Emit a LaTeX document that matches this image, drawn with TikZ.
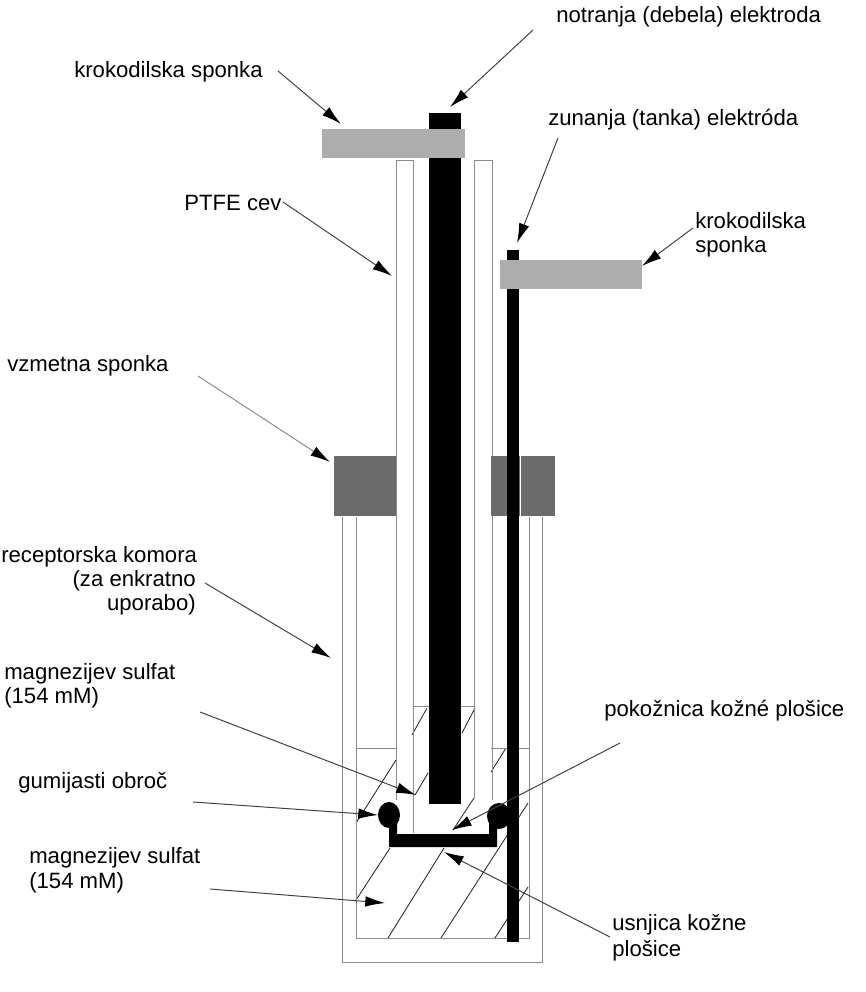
\documentclass[tikz,border=0pt]{standalone}
\usepackage{fontspec}
\setmainfont{Liberation Sans}
\usetikzlibrary{arrows.meta}

\begin{document}
\begin{tikzpicture}[x=.025cm,y=-.025cm,
  wall/.style={draw=black!45,line width=.7pt},
  hatch/.style={draw=black!85,line width=.6pt},
  lbl/.style={anchor=base west,inner sep=0pt,font=\fontsize{15.75pt}{19pt}\selectfont},
  lblr/.style={lbl,anchor=base east},
  pointer/.style={draw=black!75,line width=.7pt,-{Latex[length=14pt,width=7.5pt,black]}},
  elec/.style={fill=black},
  clip/.style={fill=black!32},
  spring/.style={fill=black!58}]
\useasboundingbox (0,0) rectangle (866,992);
% hatch of the liquid
\draw[hatch](427,708) -- (412,735);
\draw[hatch](475,708) -- (462,733);
\draw[hatch](428,773) -- (415,795);
\draw[hatch](474,798) -- (453,830);
\draw[hatch](506,748) -- (491,772);
\draw[hatch](396,760) -- (356,823);
\draw[hatch](390,848) -- (356,900);
\draw[hatch](444,848) -- (388,938);
\draw[hatch](528,803) -- (441,938);
\draw[hatch](528,887) -- (495,938);
% chamber
\draw[wall](342,517) -- (342,962) -- (542,962) -- (542,517);
\draw[wall](356,517) -- (356,938) -- (529,938) -- (529,517);
\draw[wall](356,748) -- (396,748);
\draw[wall](491,748) -- (529,748);
% tube
\draw[wall](396,800) -- (396,160) -- (413,160) -- (413,833);
\draw[wall](474,798) -- (474,160) -- (492,160) -- (492,800);
\draw[wall](413,706) -- (474,706);
% springs
\fill[spring](334,456) rectangle (396,516);
\fill[spring](491,456) rectangle (555,516);
% electrodes
\fill[elec](429,113) rectangle (461,804);
\fill[elec](507,250) rectangle (519,942);
\draw[white,line width=.8pt](520.5,456) -- (520.5,516);
% clips
\fill[clip](322,129) rectangle (465,158);
\fill[clip](500,260) rectangle (642,289);
% skin
\fill[elec](389,815) -- (397,815) -- (397,834) -- (489,834) -- (489,815) -- (497,815) -- (497,847) -- (389,847) -- cycle;
\fill[elec](389,815) ellipse (11 and 13);
\fill[elec](499,816) ellipse (12 and 13);
% labels
\node[lbl] (inner) at (556,23) {notranja (debela) elektroda};
\node[lbl] (clipa) at (74,78) {krokodilska sponka};
\node[lbl] (outer) at (548,125) {zunanja (tanka) elektróda};
\node[lbl] (ptfe) at (184,210) {PTFE cev};
\node[lbl] (clipb) at (695,228) {krokodilska};
\node[lbl] (clipc) at (695,252) {sponka};
\node[lbl] (vzmet) at (7,371) {vzmetna sponka};
\node[lbl] (recepa) at (1,562) {receptorska komora};
\node[lblr] (recepb) at (196,586) {(za enkratno};
\node[lblr] (recepc) at (196,610) {uporabo)};
\node[lbl] (magaa) at (4,679) {magnezijev sulfat};
\node[lbl] (magab) at (4,703) {(154 mM)};
\node[lbl] (pokoz) at (604,716) {pokožnica kožné plošice};
\node[lbl] (gumi) at (18,788) {gumijasti obroč};
\node[lbl] (magba) at (29,863) {magnezijev sulfat};
\node[lbl] (magbb) at (29,888) {(154 mM)};
\node[lbl] (usnja) at (612,930) {usnjica kožne};
\node[lbl] (usnjb) at (612,956) {plošice};
% pointers
\coordinate (p1) at (278,71);
\coordinate (q1) at (341,124);
\coordinate (p2) at (533,30);
\coordinate (q2) at (450,107);
\coordinate (p3) at (558,138);
\coordinate (q3) at (517,243);
\coordinate (p4) at (283,202);
\coordinate (q4) at (392,276);
\coordinate (p5) at (693,228);
\coordinate (q5) at (642,266);
\coordinate (p6) at (198,376);
\coordinate (q6) at (330,462);
\coordinate (p7) at (205,583);
\coordinate (q7) at (331,658);
\coordinate (p8) at (200,712);
\coordinate (q8) at (416,795);
\coordinate (p9) at (193,802);
\coordinate (q9) at (378,815);
\coordinate (p10) at (210,889);
\coordinate (q10) at (385,903);
\coordinate (p11) at (620,743);
\coordinate (q11) at (452,830);
\coordinate (p12) at (610,937);
\coordinate (q12) at (444,852);
\foreach \i in {1,2,3,4,5,7,8,9,10,11,12}
  \draw[pointer](p\i) -- (q\i);
\draw[pointer,draw=black!45](p6) -- (q6);
\end{tikzpicture}
\end{document}
